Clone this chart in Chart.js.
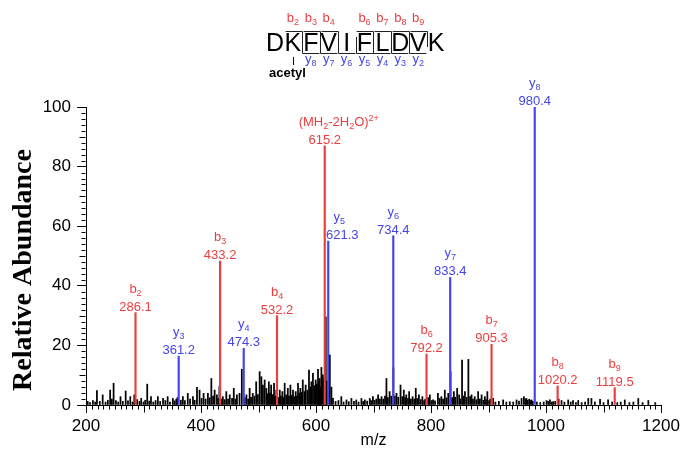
<!DOCTYPE html>
<html><head><meta charset="utf-8">
<script src="https://cdn.jsdelivr.net/npm/chart.js@4/dist/chart.umd.min.js"></script>
<style>html,body{margin:0;padding:0;background:#fff;}#wrap{position:relative;width:686px;height:453px;}</style>
</head><body><div id="wrap"><canvas id="c" width="686" height="453"></canvas></div>
<script>
// ---------- data ----------
const peptideSequence = 'DKFVIFLDVK';
const seqBIons = [2, 3, 4, 6, 7, 8, 9];
const seqYIons = [8, 7, 6, 5, 4, 3, 2];

const bIonNames = ['b_{2}', 'b_{3}', 'b_{4}', '(MH_{2}-2H_{2}O)^{2+}', 'b_{6}', 'b_{7}', 'b_{8}', 'b_{9}'];
const bIonMz = [286.1, 433.2, 532.2, 615.2, 792.2, 905.3, 1020.2, 1119.5];
const bIonIntensity = [31, 48.3, 30, 87, 17.1, 20.4, 6.4, 5.8];

const yIonNames = ['y_{3}', 'y_{4}', 'y_{5}', 'y_{6}', 'y_{7}', 'y_{8}'];
const yIonMz = [361.2, 474.3, 621.3, 734.4, 833.4, 980.4];
const yIonIntensity = [16.4, 19, 55, 56.8, 42.8, 100];

const noiseMz = [203,207,212,216,219,224,229,234,238,242,245,248,252,256,260,264,269,273,277,281,284,289,293,296,300,303,306.5,310,313,317,321,325,329,334,338,342,346,351,354,357,359,365,368.5,372,377,381,386,389,393,397.5,401,404.5,408,412,415,418,421,423.7,427.7,430,432,435,438,441,444,447,450,454,457,460,462.5,467,471,476,479,482,484.6,487,490,493,496,499,502,505,507.7,510.7,513.7,516,518,520,522,525,527,529,531,534,537,539,541.5,543.5,545.5,548,551,553,555.5,558,560,562,564.7,566.5,568.7,571,572.8,575,577,580,582,585,587.8,590,592,594.7,597,599.5,601.5,603.5,605,606.5,608,609.4,612,613.5,617,619,624,626.8,629.6,634,639,644,648,653,657,661.6,666,670,674,679,682,685,689,693.5,696,699,702,705,708,711,714,717,720,722.5,725,728,731,734.6,737,740,743,747,750,752.7,755,757,760,762,765,768,771,773.5,776,779,782,785,788,790,795,798,801,803.6,807,812,815,818,821,824,827,830,834,837,839.7,842,845.5,849,851,854,856.5,859,862,865,868,870.5,873,876,879,882,885,888,891,893.6,896,898,901,903,908,912,918,925.5,931,937,943,948.8,953,957.5,961.5,964,966,968,970.7,973,974.9,977,984,990,996,1001,1004,1006.8,1010,1012.5,1016,1022,1027,1032,1038.6,1043,1047,1052,1056,1062,1068,1073.5,1079,1085,1094,1100,1108,1115,1124,1130,1137,1145,1152,1160.5,1168,1178,1190];
const noiseIntensity = [1.2,0.8,1.5,1.0,4.8,1.2,3.4,1.0,1.6,5.0,2.0,7.3,1.5,1.0,2.8,1.2,4.7,1.4,2.8,1.0,3.4,1.8,1.2,2.2,1.0,1.6,7.0,1.3,2.8,1.0,1.5,2.8,1.2,2.2,1.5,2.8,1.0,2.2,1.4,1.9,2.5,1.6,2.8,1.5,3.9,2.0,2.8,1.6,5.9,5.0,2.2,3.9,2.0,3.9,2.4,8.9,3.0,5.0,3.4,2.2,6.2,2.0,2.8,1.8,4.5,2.0,3.4,2.2,5.6,2.0,3.4,3.9,12.0,2.5,3.4,2.0,5.6,2.6,3.9,3.0,7.8,3.5,11.2,9.5,6.7,8.4,5.6,3.8,7.8,4.0,6.7,3.5,7.3,3.0,5.0,2.6,5.0,3.0,4.5,2.5,7.3,3.4,5.6,3.0,6.7,3.2,5.0,2.8,4.5,3.0,7.3,4.0,5.6,4.2,8.4,4.5,6.7,5.0,11.7,6.0,7.8,10.6,6.5,8.4,7.0,12.0,7.5,8.9,6.0,12.6,10.1,9.0,29.6,8.0,16.8,6.0,2.2,1.2,1.5,2.8,1.0,1.7,1.1,2.2,1.2,1.7,1.0,2.2,1.2,1.7,1.3,2.2,1.5,2.8,1.6,2.0,3.4,2.0,2.8,2.0,3.0,8.9,2.5,4.5,3.0,12.5,3.0,3.9,2.6,6.7,2.8,5.0,2.5,3.4,2.2,4.5,2.0,2.8,2.0,5.6,2.2,3.4,1.8,2.8,1.5,2.0,2.5,3.4,1.5,1.7,1.4,3.9,2.2,2.8,2.0,5.0,2.4,3.9,11.2,2.5,4.5,2.6,5.6,3.4,2.0,15.1,3.0,4.5,2.6,15.3,2.8,3.4,2.0,2.8,1.8,4.5,2.0,3.4,1.6,2.8,1.8,4.5,1.5,2.0,2.2,1.0,1.2,1.7,1.0,1.1,1.0,1.7,1.3,2.2,2.8,2.0,2.2,1.6,1.9,1.5,1.7,1.2,1.0,0.8,1.0,1.5,1.2,1.7,1.0,1.1,1.2,2.0,1.5,1.0,1.7,1.0,1.5,0.8,1.5,0.8,1.0,2.2,2.2,1.0,1.9,0.8,1.7,1.0,0.8,1.0,1.7,0.8,1.0,2.2,0.8,1.5,0.8];

const xTickValues = [200, 400, 600, 800, 1000, 1200];
const yTickValues = [0, 20, 40, 60, 80, 100];
const yAxisTitle = 'Relative Abundance';
const xAxisTitle = 'm/z';

// ---------- styling / layout ----------
const RED = 'rgb(236,62,62)';
const BLUE = 'rgb(68,68,236)';
const labelFont = 'Liberation Sans, Arial, sans-serif';
// horizontal nudges of the peak labels (px), keyed by series index
const bLabelShift = { 3: { name: 14, value: 0 } };
const yLabelShift = { 2: { name: 11, value: 14 } };

function toPoints(xs, ys) { return xs.map((x, i) => ({ x: x, y: ys[i] })); }

function parseRich(str) {
  const segs = []; const re = /([_^])\{([^}]*)\}/g; let last = 0, m;
  while ((m = re.exec(str)) !== null) {
    if (m.index > last) segs.push({ t: str.slice(last, m.index), k: 'n' });
    segs.push({ t: m[2], k: m[1] === '_' ? 'sub' : 'sup' });
    last = re.lastIndex;
  }
  if (last < str.length) segs.push({ t: str.slice(last), k: 'n' });
  return segs;
}
function drawRich(ctx, str, cx, baseY, size, color) {
  const segs = parseRich(str);
  const small = Math.round(size * 0.7);
  let w = 0;
  segs.forEach(s => { ctx.font = (s.k === 'n' ? size : small) + 'px ' + labelFont; s.w = ctx.measureText(s.t).width; w += s.w; });
  let x = cx - w / 2;
  ctx.fillStyle = color; ctx.textAlign = 'left'; ctx.textBaseline = 'alphabetic';
  segs.forEach(s => {
    ctx.font = (s.k === 'n' ? size : small) + 'px ' + labelFont;
    const dy = s.k === 'sub' ? 3 : (s.k === 'sup' ? -5 : 0);
    ctx.fillText(s.t, x, baseY + dy);
    x += s.w;
  });
}

const annotatePlugin = {
  id: 'annotate',
  afterDatasetsDraw(chart) {
    const ctx = chart.ctx; const xs = chart.scales.x; const ys = chart.scales.y;
    ctx.save();
    const draw = (names, mzs, ints, color, shifts) => {
      names.forEach((nm, i) => {
        const px = xs.getPixelForValue(mzs[i]);
        const top = ys.getPixelForValue(ints[i]);
        const sh = shifts[i] || { name: 0, value: 0 };
        drawRich(ctx, nm, px + sh.name, top - 20, 13, color);
        ctx.font = '13px ' + labelFont; ctx.textAlign = 'center'; ctx.fillStyle = color;
        ctx.fillText(mzs[i].toFixed(1), px + sh.value, top - 2);
      });
    };
    draw(bIonNames, bIonMz, bIonIntensity, RED, bLabelShift);
    draw(yIonNames, yIonMz, yIonIntensity, BLUE, yLabelShift);
    ctx.restore();
  },
  afterDraw(chart) {
    const ctx = chart.ctx; const xs = chart.scales.x; const ys = chart.scales.y;
    ctx.save();
    // y axis title
    ctx.save();
    ctx.translate(24, 270); ctx.rotate(-Math.PI / 2);
    ctx.font = 'bold 28px Liberation Serif, Times New Roman, serif';
    ctx.fillStyle = '#000'; ctx.textAlign = 'center'; ctx.textBaseline = 'middle';
    ctx.fillText(yAxisTitle, 0, 0);
    ctx.restore();
    ctx.strokeStyle = '#000'; ctx.lineWidth = 1;
    // minor ticks, x
    const yb = Math.round(ys.bottom) + 0.5;
    for (let v = 200; v <= 1200; v += 10) {
      if (xTickValues.includes(v)) continue;
      const px = Math.round(xs.getPixelForValue(v)) + 0.5;
      const len = (v % 100 === 0) ? 7 : 4;
      ctx.beginPath(); ctx.moveTo(px, yb); ctx.lineTo(px, yb + len); ctx.stroke();
    }
    // minor ticks, y
    const xl = Math.round(xs.left) - 0.5;
    for (let v = 0; v <= 100; v += 2) {
      if (yTickValues.includes(v)) continue;
      const py = Math.round(ys.getPixelForValue(v)) + 0.5;
      const len = (v % 10 === 0) ? 6 : 4;
      ctx.beginPath(); ctx.moveTo(xl, py); ctx.lineTo(xl - len, py); ctx.stroke();
    }
    // peptide fragment map
    const x0 = 275, step = 17.9, yTop = 31, yBot = 53;
    ctx.fillStyle = '#000'; ctx.font = '25px ' + labelFont; ctx.textAlign = 'center'; ctx.textBaseline = 'alphabetic';
    for (let i = 0; i < peptideSequence.length; i++) ctx.fillText(peptideSequence[i], x0 + i * step, 51);
    ctx.strokeStyle = '#222'; ctx.lineWidth = 1;
    seqBIons.forEach(n => {
      const bx = Math.round(x0 + (n - 1) * step + step / 2) + 0.5;
      ctx.beginPath(); ctx.moveTo(bx - step + 1, yTop + 0.5); ctx.lineTo(bx, yTop + 0.5); ctx.lineTo(bx, yBot - 6); ctx.stroke();
      drawRich(ctx, 'b_{' + n + '}', x0 + (n - 1) * step, 22, 13, RED);
    });
    seqYIons.forEach(n => {
      const k = peptideSequence.length - n; // index of first residue of y fragment
      const bx = Math.round(x0 + (k - 1) * step + step / 2) + 0.5;
      ctx.strokeStyle = '#222';
      ctx.beginPath(); ctx.moveTo(bx, yTop + 6); ctx.lineTo(bx, yBot + 0.5); ctx.lineTo(bx + step - 1, yBot + 0.5); ctx.stroke();
      drawRich(ctx, 'y_{' + n + '}', x0 + k * step, 63, 13, BLUE);
    });
    // acetyl mark
    const ax = Math.round(x0 + step) + 0.5;
    ctx.strokeStyle = '#000';
    ctx.beginPath(); ctx.moveTo(ax, 57); ctx.lineTo(ax, 65); ctx.stroke();
    ctx.fillStyle = '#000'; ctx.font = 'bold 13px ' + labelFont; ctx.textAlign = 'center';
    ctx.fillText('acetyl', ax - 6, 77);
    ctx.restore();
  }
};

new Chart(document.getElementById('c'), {
  type: 'bar',
  data: {
    datasets: [
      { label: 'b ions', data: toPoints(bIonMz, bIonIntensity), backgroundColor: RED, barThickness: 1.5, grouped: false },
      { label: 'y ions', data: toPoints(yIonMz, yIonIntensity), backgroundColor: BLUE, barThickness: 1.5, grouped: false },
      { label: 'other', data: toPoints(noiseMz, noiseIntensity), backgroundColor: '#000', barThickness: 1.1, grouped: false }
    ]
  },
  options: {
    responsive: false, animation: false, devicePixelRatio: 1,
    layout: { padding: { top: 107, right: 25, left: 0, bottom: 0 } },
    plugins: { legend: { display: false }, tooltip: { enabled: false } },
    scales: {
      x: {
        type: 'linear', min: 200, max: 1200, offset: false,
        afterBuildTicks: s => { s.ticks = xTickValues.map(v => ({ value: v })); },
        border: { display: true, color: '#000', width: 1 },
        grid: { display: true, drawOnChartArea: false, drawTicks: true, tickLength: 8, color: '#000', offset: false },
        ticks: { color: '#000', font: { family: labelFont, size: 17 }, padding: 3, maxRotation: 0, autoSkip: false, callback: v => String(v) },
        title: { display: true, text: xAxisTitle, color: '#000', font: { family: labelFont, size: 16 }, padding: { top: 0, bottom: 3 } },
        afterFit: s => { s.height = 48; }
      },
      y: {
        min: 0, max: 100,
        afterBuildTicks: s => { s.ticks = yTickValues.map(v => ({ value: v })); },
        border: { display: true, color: '#000', width: 1 },
        grid: { display: true, drawOnChartArea: false, drawTicks: true, tickLength: 9, color: '#000' },
        ticks: { color: '#000', font: { family: labelFont, size: 17 }, padding: 6, callback: v => String(v) },
        title: { display: false },
        afterFit: s => { s.width = 86; }
      }
    }
  },
  plugins: [annotatePlugin]
});
</script></body></html>
